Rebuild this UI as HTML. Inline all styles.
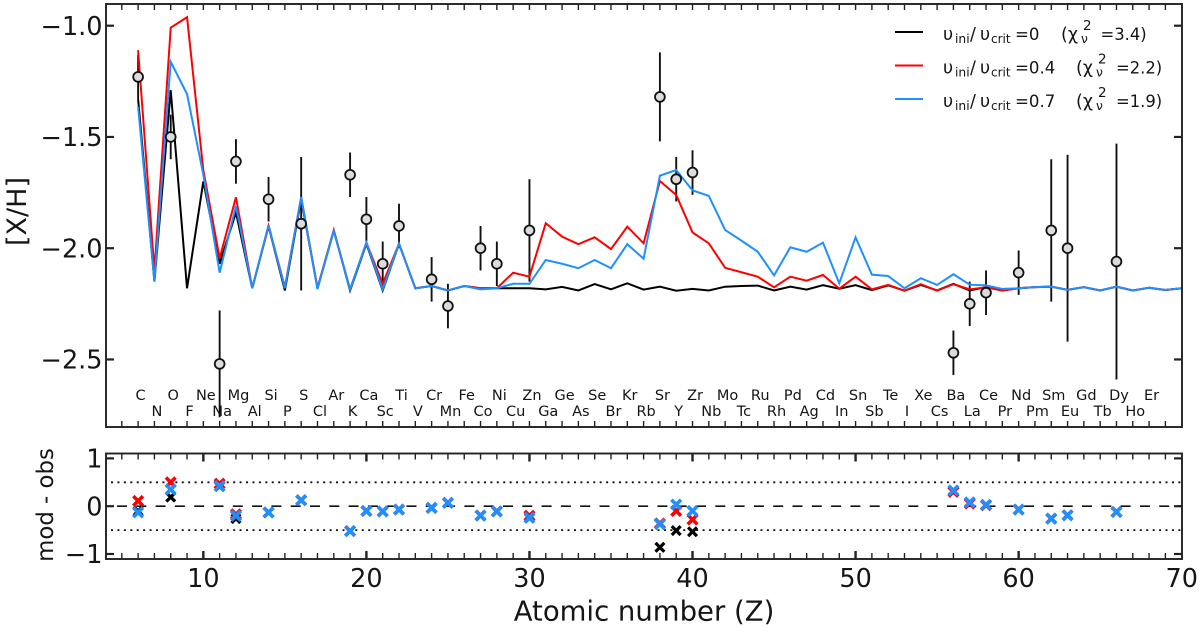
<!DOCTYPE html>
<html lang="en">
<head>
<meta charset="utf-8">
<title>Abundance pattern chart</title>
<style>
html,body{margin:0;padding:0;background:#fff;}
svg{display:block;}
text{font-family:"DejaVu Sans","Liberation Sans",sans-serif;fill:#151515;}
</style>
</head>
<body>
<svg id="chart" xmlns="http://www.w3.org/2000/svg" width="1200" height="628" viewBox="0 0 1200 628">
  <rect x="0" y="0" width="1200" height="628" fill="#fff"/>
  <g id="main-layer"></g>
  <g id="resid-layer"></g>
  <text transform="translate(26,211.5) rotate(-90)" text-anchor="middle" font-size="27">[X/H]</text>
  <text transform="translate(53,505) rotate(-90)" text-anchor="middle" font-size="22.8">mod - obs</text>
  <text x="644" y="620.5" text-anchor="middle" font-size="27.5">Atomic number (Z)</text>

  <g>
    <g>
      <line x1="895" x2="923" y1="32" y2="32" stroke="#000" stroke-width="2"/>
      <text x="943" y="40" font-size="17.5">υ</text><text x="955" y="43" font-size="12.3">ini</text><text x="970" y="40" font-size="17.5">/</text>
      <text x="980" y="40" font-size="17.5">υ</text><text x="991" y="43" font-size="12">crit</text><text x="1015" y="40" font-size="16.6">=0</text>
      <text x="1061" y="40" font-size="17.5">(χ</text><text x="1081" y="43" font-size="12.3">ν</text><text x="1083" y="30" font-size="13.5">2</text><text x="1100.5" y="40" font-size="16.4">=3.4)</text>
    </g>
    <g>
      <line x1="895" x2="923" y1="65.5" y2="65.5" stroke="#f00" stroke-width="2"/>
      <text x="943" y="73.5" font-size="17.5">υ</text><text x="955" y="76.5" font-size="12.3">ini</text><text x="970" y="73.5" font-size="17.5">/</text>
      <text x="980" y="73.5" font-size="17.5">υ</text><text x="991" y="76.5" font-size="12">crit</text><text x="1015" y="73.5" font-size="16.6">=0.4</text>
      <text x="1076" y="73.5" font-size="17.5">(χ</text><text x="1096" y="76.5" font-size="12.3">ν</text><text x="1098" y="63.5" font-size="13.5">2</text><text x="1116" y="73.5" font-size="16.4">=2.2)</text>
    </g>
    <g>
      <line x1="895" x2="923" y1="99" y2="99" stroke="#1e90ff" stroke-width="2"/>
      <text x="943" y="107" font-size="17.5">υ</text><text x="955" y="110" font-size="12.3">ini</text><text x="970" y="107" font-size="17.5">/</text>
      <text x="980" y="107" font-size="17.5">υ</text><text x="991" y="110" font-size="12">crit</text><text x="1015" y="107" font-size="16.6">=0.7</text>
      <text x="1076" y="107" font-size="17.5">(χ</text><text x="1096" y="110" font-size="12.3">ν</text><text x="1098" y="97" font-size="13.5">2</text><text x="1116" y="107" font-size="16.4">=1.9)</text>
    </g>
  </g>
</svg>
<script>
// Atomic numbers start at Z = 6 for every model series below (index 0 = Z 6).
const firstZ = 6;
const elementSymbols = ["C","N","O","F","Ne","Na","Mg","Al","Si","P","S","Cl","Ar","K","Ca","Sc","Ti","V","Cr","Mn","Fe","Co","Ni","Cu","Zn","Ga","Ge","As","Se","Br","Kr","Rb","Sr","Y","Zr","Nb","Mo","Tc","Ru","Rh","Pd","Ag","Cd","In","Sn","Sb","Te","I","Xe","Cs","Ba","La","Ce","Pr","Nd","Pm","Sm","Eu","Gd","Tb","Dy","Ho","Er"];

const modelRot0 = [
  -1.33,-2.15,-1.29,-2.18,-1.70,-2.07,-1.84,-2.18,-1.90,-2.19,
  -1.78,-2.18,-1.92,-2.19,-1.98,-2.19,-1.98,-2.18,-2.17,-2.19,
  -2.17,-2.18,-2.18,-2.18,-2.18,-2.185,-2.174,-2.19,-2.161,-2.185,
  -2.158,-2.186,-2.173,-2.191,-2.183,-2.19,-2.173,-2.17,-2.168,-2.19,
  -2.173,-2.186,-2.166,-2.182,-2.166,-2.188,-2.167,-2.191,-2.165,-2.19,
  -2.16,-2.19,-2.175,-2.19,-2.18,-2.175,-2.173,-2.187,-2.175,-2.19,
  -2.173,-2.19,-2.178,-2.188,-2.18];
const modelRot04 = [
  -1.11,-2.10,-1.009,-0.962,-1.65,-2.045,-1.771,-2.18,-1.90,-2.175,
  -1.77,-2.18,-1.92,-2.185,-1.975,-2.16,-1.98,-2.18,-2.17,-2.19,
  -2.17,-2.18,-2.18,-2.11,-2.128,-1.888,-1.948,-1.982,-1.951,-2.004,
  -1.903,-1.978,-1.698,-1.761,-1.929,-1.978,-2.088,-2.108,-2.128,-2.176,
  -2.128,-2.146,-2.12,-2.182,-2.128,-2.185,-2.165,-2.191,-2.162,-2.191,
  -2.162,-2.185,-2.176,-2.19,-2.18,-2.175,-2.173,-2.187,-2.175,-2.19,
  -2.173,-2.19,-2.178,-2.188,-2.18];
const modelRot07 = [
  -1.364,-2.15,-1.162,-1.307,-1.67,-2.11,-1.81,-2.18,-1.896,-2.18,
  -1.77,-2.184,-1.923,-2.185,-1.975,-2.185,-1.98,-2.18,-2.17,-2.19,
  -2.17,-2.185,-2.18,-2.16,-2.16,-2.053,-2.07,-2.09,-2.053,-2.09,
  -1.982,-2.047,-1.674,-1.649,-1.74,-1.765,-1.918,-1.966,-2.016,-2.122,
  -1.996,-2.016,-1.975,-2.158,-1.951,-2.119,-2.125,-2.18,-2.135,-2.165,
  -2.117,-2.164,-2.167,-2.183,-2.18,-2.175,-2.173,-2.187,-2.175,-2.19,
  -2.173,-2.19,-2.178,-2.188,-2.18];

const obsZ =     [6,8,11,12,14,16,19,20,21,22,24,25,27,28,30,38,39,40,56,57,58,60,62,63,66];
const obsValue = [-1.23,-1.50,-2.52,-1.61,-1.78,-1.89,-1.67,-1.87,-2.07,-1.90,-2.14,-2.26,-2.00,-2.07,-1.92,-1.32,-1.69,-1.66,-2.47,-2.25,-2.20,-2.11,-1.92,-2.00,-2.06];
const obsError = [0.10,0.10,0.24,0.10,0.10,0.30,0.10,0.10,0.10,0.10,0.10,0.10,0.10,0.10,0.23,0.20,0.10,0.10,0.10,0.10,0.10,0.10,0.32,0.42,0.53];

const residRot0 =  [-0.10,0.19,0.41,-0.26,-0.13,0.125,-0.52,-0.10,-0.11,-0.07,-0.035,0.07,-0.195,-0.11,-0.25,-0.86,-0.51,-0.535,0.30,0.06,0.03,-0.07,-0.26,-0.19,-0.12];
const residRot04 = [0.11,0.50,0.47,-0.17,-0.13,0.125,-0.52,-0.10,-0.11,-0.07,-0.035,0.07,-0.195,-0.11,-0.20,-0.36,-0.10,-0.28,0.30,0.055,0.02,-0.07,-0.26,-0.19,-0.12];
const residRot07 = [-0.13,0.35,0.42,-0.20,-0.13,0.125,-0.52,-0.10,-0.11,-0.07,-0.035,0.07,-0.195,-0.11,-0.24,-0.375,0.035,-0.10,0.33,0.08,0.03,-0.07,-0.26,-0.19,-0.12];

const xTickMajor = [10,20,30,40,50,60,70];
const yTickMain = [-1.0,-1.5,-2.0,-2.5];
const yTickMainLabels = ["−1.0","−1.5","−2.0","−2.5"];
const yTickResid = [1,0,-1];
const yTickResidLabels = ["1","0","−1"];

const SVG_NS = "http://www.w3.org/2000/svg";
const L = 106, R = 1182, T1 = 4, B1 = 427, T2 = 453.5, B2 = 559;
function xScale(z){ return 105.5 + (z - 4) * (1181.7 - 105.5) / 66; }
function yMain(v){ return 25.7 + (-1 - v) * 222.5; }
function yResid(v){ return 506.2 - v * 47.8; }
function node(tag, parent, props){
  const el = document.createElementNS(SVG_NS, tag);
  for (const k in props) el.setAttribute(k, props[k]);
  parent.appendChild(el);
  return el;
}
const mainLayer = document.getElementById('main-layer');
const residLayer = document.getElementById('resid-layer');

// Element symbols
elementSymbols.forEach(function(sym, i){
  const z = firstZ + i;
  const t = node('text', mainLayer, {x: xScale(z) + 2.5, y: (i % 2 === 0) ? 400 : 416, 'text-anchor': 'middle', 'font-size': 14.5});
  
  
  t.textContent = sym;
});

// Error bars sit under the model lines
obsZ.forEach(function(z, i){
  const e = node('line', mainLayer, {x1: xScale(z), x2: xScale(z), y1: yMain(obsValue[i] + obsError[i]), y2: yMain(obsValue[i] - obsError[i]), stroke: '#111', 'stroke-width': 1.9});
  
  
});

// Model lines
function modelPath(values){
  return values.map(function(v, i){ return (i ? 'L' : 'M') + xScale(firstZ + i).toFixed(2) + ' ' + yMain(v).toFixed(2); }).join(' ');
}
const lineBlack = node('path', mainLayer, {d: modelPath(modelRot0), fill: 'none', stroke: '#000', 'stroke-width': 2, 'stroke-linejoin': 'miter'});


const lineRed = node('path', mainLayer, {d: modelPath(modelRot04), fill: 'none', stroke: '#f00', 'stroke-width': 2, 'stroke-linejoin': 'miter'});


const lineBlue = node('path', mainLayer, {d: modelPath(modelRot07), fill: 'none', stroke: '#1e90ff', 'stroke-width': 2, 'stroke-linejoin': 'miter'});



// Observation markers
obsZ.forEach(function(z, i){
  const c = node('circle', mainLayer, {cx: xScale(z), cy: yMain(obsValue[i]), r: 4.9, fill: '#dcdcdc', stroke: '#111', 'stroke-width': 1.8});
  
  
});

// Ticks for both panels
function xTicks(layer, top, bottom, markMajor){
  for (let z = 5; z < 70; z++){
    const major = markMajor && xTickMajor.indexOf(z) >= 0;
    const len = major ? 8 : 6;
    const w = major ? 2.4 : 1.4;
    const a = node('line', layer, {x1: xScale(z), x2: xScale(z), y1: top, y2: top + len, stroke: '#222', 'stroke-width': w});
    
    
    const b = node('line', layer, {x1: xScale(z), x2: xScale(z), y1: bottom, y2: bottom - len, stroke: '#222', 'stroke-width': w});
    
    
  }
}
xTicks(mainLayer, T1, B1, false);
xTicks(residLayer, T2, B2, true);

function yTicks(layer, values, labels, scale, size){
  values.forEach(function(v, i){
    const a = node('line', layer, {x1: L, x2: L + 8, y1: scale(v), y2: scale(v), stroke: '#222', 'stroke-width': 2.2});
    
    
    const b = node('line', layer, {x1: R, x2: R - 8, y1: scale(v), y2: scale(v), stroke: '#222', 'stroke-width': 2.2});
    
    
    const t = node('text', layer, {x: 102.5, y: scale(v) + 9.2, 'text-anchor': 'end', 'font-size': size});
    
    
    t.textContent = labels[i];
  });
}
yTicks(mainLayer, yTickMain, yTickMainLabels, yMain, 25.5);
yTicks(residLayer, yTickResid, yTickResidLabels, yResid, 25.5);

// Residual x tick labels
xTickMajor.forEach(function(z){
  const t = node('text', residLayer, {x: xScale(z), y: 586.8, 'text-anchor': 'middle', 'font-size': 25.5});
  
  
  t.textContent = String(z);
});

// Residual reference lines
const zeroLine = node('line', residLayer, {x1: 117, x2: R, y1: yResid(0), y2: yResid(0), stroke: '#111', 'stroke-width': 1.7, 'stroke-dasharray': '10 9.3'});


const upperLine = node('line', residLayer, {x1: 111, x2: R, y1: yResid(0.5), y2: yResid(0.5), stroke: '#111', 'stroke-width': 1.8, 'stroke-dasharray': '2 4.43'});


const lowerLine = node('line', residLayer, {x1: 111, x2: R, y1: yResid(-0.5), y2: yResid(-0.5), stroke: '#111', 'stroke-width': 1.8, 'stroke-dasharray': '2 4.43'});



// Residual markers
function crosses(values, color, half, width, name){
  values.forEach(function(v, i){
    const cx = xScale(obsZ[i]), cy = yResid(v);
    const p = node('path', residLayer, {d: 'M' + (cx - half) + ' ' + (cy - half) + 'L' + (cx + half) + ' ' + (cy + half) + 'M' + (cx - half) + ' ' + (cy + half) + 'L' + (cx + half) + ' ' + (cy - half), fill: 'none', stroke: color, 'stroke-width': width});
    
    
  });
}
crosses(residRot0, '#000', 4.4, 3.2, 'residual-marker-rot-0');
crosses(residRot04, '#f00', 4.8, 3.6, 'residual-marker-rot-04');
crosses(residRot07, '#1e90ff', 4.8, 3.6, 'residual-marker-rot-07');

// Panel frames
const frameMain = node('rect', mainLayer, {x: L, y: T1, width: R - L, height: B1 - T1, fill: 'none', stroke: '#222', 'stroke-width': 1.9});


const frameResid = node('rect', residLayer, {x: L, y: T2, width: R - L, height: B2 - T2, fill: 'none', stroke: '#222', 'stroke-width': 1.9});


</script>
</body>
</html>
